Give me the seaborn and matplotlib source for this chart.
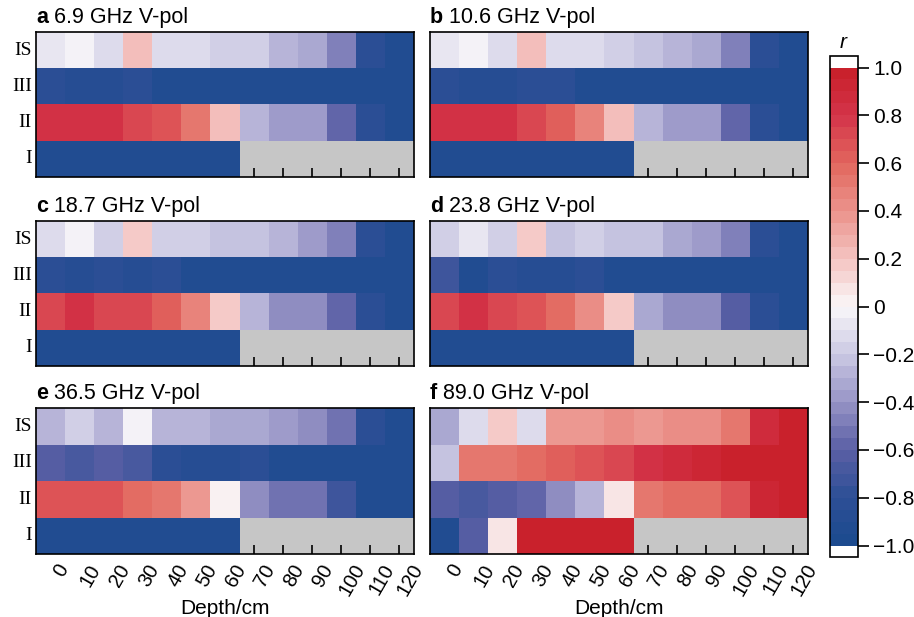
import numpy as np
import pandas as pd
import matplotlib
matplotlib.use("Agg")
import matplotlib.pyplot as plt
import matplotlib.transforms as mtransforms
from matplotlib.colors import LinearSegmentedColormap, ListedColormap
import seaborn as sns

# ---------------- data ----------------
depths = [0, 10, 20, 30, 40, 50, 60, 70, 80, 90, 100, 110, 120]
layers = ["IS", "III", "II", "I"]
panel_letters = ["a", "b", "c", "d", "e", "f"]
panel_titles = ["6.9 GHz V-pol", "10.6 GHz V-pol", "18.7 GHz V-pol",
                "23.8 GHz V-pol", "36.5 GHz V-pol", "89.0 GHz V-pol"]
nan = np.nan

r_a_IS  = [-0.10, -0.02, -0.15, 0.22, -0.15, -0.15, -0.20, -0.20, -0.30, -0.35, -0.50, -0.85, -0.95]
r_a_III = [-0.80, -0.88, -0.87, -0.85, -0.95, -0.95, -0.95, -0.95, -0.95, -0.95, -0.95, -0.95, -0.95]
r_a_II  = [0.80, 0.80, 0.80, 0.72, 0.68, 0.50, 0.22, -0.30, -0.40, -0.40, -0.60, -0.85, -0.95]
r_a_I   = [-0.95, -0.95, -0.95, -0.95, -0.95, -0.95, -0.95, nan, nan, nan, nan, nan, nan]

r_b_IS  = [-0.10, -0.02, -0.15, 0.22, -0.15, -0.15, -0.20, -0.25, -0.30, -0.35, -0.50, -0.85, -0.95]
r_b_III = [-0.80, -0.88, -0.87, -0.85, -0.85, -0.95, -0.95, -0.95, -0.95, -0.95, -0.95, -0.95, -0.95]
r_b_II  = [0.80, 0.80, 0.80, 0.72, 0.60, 0.47, 0.22, -0.30, -0.40, -0.40, -0.60, -0.85, -0.95]
r_b_I   = [-0.95, -0.95, -0.95, -0.95, -0.95, -0.95, -0.95, nan, nan, nan, nan, nan, nan]

r_c_IS  = [-0.15, -0.02, -0.20, 0.18, -0.20, -0.20, -0.25, -0.25, -0.30, -0.40, -0.50, -0.85, -0.95]
r_c_III = [-0.82, -0.87, -0.80, -0.86, -0.85, -0.95, -0.95, -0.95, -0.95, -0.95, -0.95, -0.95, -0.95]
r_c_II  = [0.72, 0.80, 0.72, 0.72, 0.60, 0.47, 0.18, -0.30, -0.45, -0.45, -0.60, -0.85, -0.95]
r_c_I   = [-0.95, -0.95, -0.95, -0.95, -0.95, -0.95, -0.95, nan, nan, nan, nan, nan, nan]

r_d_IS  = [-0.20, -0.10, -0.20, 0.15, -0.25, -0.20, -0.25, -0.25, -0.35, -0.40, -0.50, -0.85, -0.95]
r_d_III = [-0.75, -0.92, -0.80, -0.86, -0.86, -0.85, -0.95, -0.95, -0.95, -0.95, -0.95, -0.95, -0.95]
r_d_II  = [0.72, 0.80, 0.72, 0.68, 0.55, 0.42, 0.15, -0.35, -0.45, -0.45, -0.65, -0.85, -0.95]
r_d_I   = [-0.95, -0.95, -0.95, -0.95, -0.95, -0.95, -0.95, nan, nan, nan, nan, nan, nan]

r_e_IS  = [-0.30, -0.20, -0.30, -0.02, -0.30, -0.30, -0.35, -0.35, -0.40, -0.45, -0.55, -0.85, -0.95]
r_e_III = [-0.65, -0.68, -0.65, -0.68, -0.80, -0.86, -0.86, -0.85, -0.95, -0.95, -0.95, -0.95, -0.95]
r_e_II  = [0.68, 0.68, 0.68, 0.55, 0.50, 0.35, 0.02, -0.45, -0.55, -0.55, -0.72, -0.95, -0.95]
r_e_I   = [-0.95, -0.95, -0.95, -0.95, -0.95, -0.95, -0.95, nan, nan, nan, nan, nan, nan]

r_f_IS  = [-0.35, -0.15, 0.15, -0.15, 0.35, 0.35, 0.40, 0.37, 0.40, 0.43, 0.52, 0.85, 0.95]
r_f_III = [-0.25, 0.52, 0.52, 0.57, 0.60, 0.68, 0.72, 0.82, 0.88, 0.92, 0.95, 0.95, 0.95]
r_f_II  = [-0.65, -0.68, -0.62, -0.58, -0.45, -0.30, 0.08, 0.52, 0.57, 0.57, 0.68, 0.92, 0.95]
r_f_I   = [-0.95, -0.65, 0.08, 0.95, 0.95, 0.95, 0.95, nan, nan, nan, nan, nan, nan]

panels = [
    [r_a_IS, r_a_III, r_a_II, r_a_I],
    [r_b_IS, r_b_III, r_b_II, r_b_I],
    [r_c_IS, r_c_III, r_c_II, r_c_I],
    [r_d_IS, r_d_III, r_d_II, r_d_I],
    [r_e_IS, r_e_III, r_e_II, r_e_I],
    [r_f_IS, r_f_III, r_f_II, r_f_I],
]
cbar_ticks = [-1.0, -0.8, -0.6, -0.4, -0.2, 0.0, 0.2, 0.4, 0.6, 0.8, 1.0]
cbar_labels = ["\u22121.0", "\u22120.8", "\u22120.6", "\u22120.4", "\u22120.2", "0",
               "0.2", "0.4", "0.6", "0.8", "1.0"]

# ---------------- style ----------------
sns.set_theme(style="white")
plt.rcParams["font.family"] = ["Liberation Sans", "DejaVu Sans"]
plt.rcParams["axes.linewidth"] = 1.2

anchor_vals = [-1.0, -0.8, -0.6, -0.4, -0.2, 0.0, 0.2, 0.4, 0.6, 0.8, 1.0]
anchor_cols = ["#1B4A8E", "#2D4F96", "#5A5FA5", "#9794C6", "#CBC9E3", "#FAF8FA",
               "#F4C4C1", "#EB938C", "#E2675E", "#D4344A", "#C81E28"]
cont = LinearSegmentedColormap.from_list(
    "rb", list(zip([(v + 1) / 2 for v in anchor_vals], anchor_cols)))
nlev = 40
cmap = ListedColormap([cont((i + 0.5) / nlev) for i in range(nlev)])
cmap.set_over("white")
cmap.set_under("white")

W, H = 914, 617
fig = plt.figure(figsize=(W / 100, H / 100), dpi=100)

col_x = [36, 430]
ax_w = 378
row_y = [(32, 177), (221, 366), (408, 554)]

serif = ["Liberation Serif", "DejaVu Serif"]
mesh = None
for k in range(6):
    r, c = divmod(k, 2)
    x0 = col_x[c]
    ytop, ybot = row_y[r]
    ax = fig.add_axes([x0 / W, 1 - ybot / H, ax_w / W, (ybot - ytop) / H])
    ax.set_facecolor("#C6C6C6")
    df = pd.DataFrame(panels[k], index=layers, columns=depths)
    sns.heatmap(df, ax=ax, cmap=cmap, vmin=-1, vmax=1, cbar=False,
                xticklabels=depths, yticklabels=layers)
    if mesh is None:
        mesh = ax.collections[0]
    for s in ax.spines.values():
        s.set_visible(True)
        s.set_color("black")
        s.set_linewidth(1.2)
    ax.tick_params(axis="y", direction="in", length=8, width=1.2, color="black",
                   left=True, pad=3)
    ax.tick_params(axis="x", direction="in", length=6.5, width=1.2, color="black",
                   bottom=True, pad=5)
    if c == 0:
        ax.set_yticklabels(layers, rotation=0, fontsize=14, family=serif,
                           color="black")
    else:
        ax.set_yticklabels([])
    if r == 2:
        ax.set_xticklabels([str(d) for d in depths], rotation=60, ha="center",
                           fontsize=14.5, color="black")
        off = mtransforms.ScaledTranslation(0.11, 0, fig.dpi_scale_trans)
        for lab in ax.get_xticklabels():
            lab.set_transform(lab.get_transform() + off)
        ax.set_xlabel("Depth/cm", fontsize=15, labelpad=0, color="black")
    else:
        ax.set_xticklabels([])
        ax.set_xlabel("")
    ax.set_ylabel("")
    t1 = ax.text(0, 1.025, panel_letters[k], transform=ax.transAxes,
                 fontsize=15.5, fontweight="bold", ha="left", va="bottom",
                 color="black")
    ax.annotate(" " + panel_titles[k], xy=(1, 0), xycoords=t1,
                fontsize=15.5, ha="left", va="bottom", color="black")

# colorbar (axes spans the extensions too)
cax = fig.add_axes([830 / W, 1 - 557 / H, 28 / W, 501 / H])
cb = fig.colorbar(mesh, cax=cax, extend="both", extendrect=True,
                  extendfrac=11.5 / 478)
cb.outline.set_linewidth(1.2)
cb.outline.set_edgecolor("black")
cb.set_ticks(cbar_ticks)
cb.set_ticklabels(cbar_labels)
cax.tick_params(direction="out", length=8, width=1.2, labelsize=15,
                color="black", labelcolor="black", right=True, pad=3)
fig.text(843 / W, 1 - 42 / H, "r", style="italic", fontsize=15,
         ha="center", va="center", color="black")

fig.savefig("out.png", dpi=100)
